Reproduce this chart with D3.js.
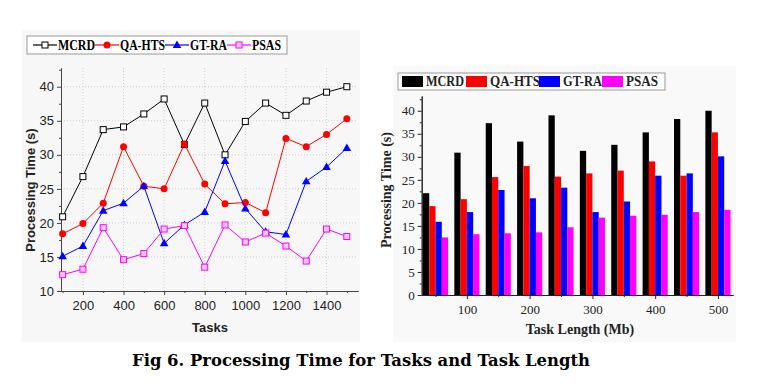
<!DOCTYPE html>
<html>
<head>
<meta charset="utf-8">
<script src="https://cdn.jsdelivr.net/npm/d3@7/dist/d3.min.js"></script>
<style>
body { margin: 0; background: #fff; }
</style>
</head>
<body>
<script>
// series names and colours
var series = ["MCRD", "QA-HTS", "GT-RA", "PSAS"];
var colors = ["#000000", "#ff0000", "#0000ff", "#ff00ff"];

// left chart: processing time vs number of tasks
var tasks = [100, 200, 300, 400, 500, 600, 700, 800, 900, 1000, 1100, 1200, 1300, 1400, 1500];
var mcrdTasks  = [20.9, 26.8, 33.7, 34.1, 36.0, 38.2, 31.5, 37.6, 30.0, 34.9, 37.6, 35.8, 37.9, 39.2, 40.0];
var qahtsTasks = [18.4, 19.9, 22.9, 31.2, 25.4, 25.0, 31.6, 25.7, 22.8, 23.0, 21.5, 32.4, 31.2, 33.0, 35.3];
var gtraTasks  = [15.1, 16.6, 21.8, 22.9, 25.4, 17.0, 19.7, 21.6, 29.1, 22.1, 18.7, 18.3, 26.1, 28.2, 31.0];
var psasTasks  = [12.4, 13.2, 19.3, 14.6, 15.5, 19.1, 19.6, 13.5, 19.7, 17.2, 18.5, 16.6, 14.4, 19.1, 18.0];
var taskTicks = [200, 400, 600, 800, 1000, 1200, 1400];
var leftYTicks = [10, 15, 20, 25, 30, 35, 40];

// right chart: processing time vs task length
var lengths = [50, 100, 150, 200, 250, 300, 350, 400, 450, 500];
var mcrdLen  = [22.1, 30.9, 37.3, 33.3, 39.0, 31.3, 32.6, 35.3, 38.2, 40.0];
var qahtsLen = [19.3, 20.8, 25.6, 28.0, 25.7, 26.4, 27.0, 29.0, 25.9, 35.3];
var gtraLen  = [15.9, 18.0, 22.8, 21.0, 23.3, 18.0, 20.3, 25.9, 26.4, 30.1];
var psasLen  = [12.5, 13.2, 13.4, 13.6, 14.7, 16.8, 17.2, 17.4, 18.0, 18.5];
var lengthTicks = [100, 200, 300, 400, 500];
var rightYTicks = [0, 5, 10, 15, 20, 25, 30, 35, 40];

var caption = "Fig 6. Processing Time for Tasks and Task Length";

var svg = d3.select("body").append("svg").attr("width", 762).attr("height", 383);

// faint panel backgrounds
svg.append("rect").attr("x", 22).attr("y", 30).attr("width", 338).attr("height", 312).style("fill", "#f7f7f7");
svg.append("rect").attr("x", 393).attr("y", 66).attr("width", 343).attr("height", 276).style("fill", "#f9f9f9");

// ---------- left line chart ----------
var leftData = [mcrdTasks, qahtsTasks, gtraTasks, psasTasks];
var lx = d3.scaleLinear().domain([92, 1555]).range([61, 358]);
var ly = d3.scaleLinear().domain([10, 42.75]).range([291, 68]);

var left = svg.append("g");

// dotted grid
left.selectAll(".vgrid").data(taskTicks).enter().append("line")
    .attr("x1", function(d){ return lx(d); }).attr("x2", function(d){ return lx(d); })
    .attr("y1", ly(10)).attr("y2", 68)
    .style("stroke", "#cfcfcf").style("stroke-dasharray", "1,2");
left.selectAll(".hgrid").data(leftYTicks.slice(1)).enter().append("line")
    .attr("x1", 61).attr("x2", 358)
    .attr("y1", function(d){ return ly(d); }).attr("y2", function(d){ return ly(d); })
    .style("stroke", "#cfcfcf").style("stroke-dasharray", "1,2");

var lxAxis = left.append("g").attr("transform", "translate(0,291)")
    .call(d3.axisBottom(lx).tickValues(taskTicks).tickFormat(d3.format("d")).tickSize(4).tickSizeOuter(0));
left.append("g").attr("transform", "translate(0,291)")
    .call(d3.axisBottom(lx).tickValues(d3.range(100, 1600, 200)).tickSize(2).tickFormat("").tickSizeOuter(0));
var lyAxis = left.append("g").attr("transform", "translate(61,0)")
    .call(d3.axisLeft(ly).tickValues(leftYTicks).tickSize(4).tickSizeOuter(0));
left.append("g").attr("transform", "translate(61,0)")
    .call(d3.axisLeft(ly).tickValues(d3.range(12.5, 43, 5)).tickSize(2).tickFormat("").tickSizeOuter(0));
left.selectAll(".domain, .tick line").style("stroke", "#444");
left.selectAll(".tick text").style("font-family", "Liberation Sans, Arial, sans-serif")
    .style("font-size", "13px").style("fill", "#222");
lxAxis.selectAll(".tick text").attr("dy", "0.9em");

left.append("text").attr("x", 210).attr("y", 332).attr("text-anchor", "middle")
    .style("font-family", "Liberation Sans, Arial, sans-serif").style("font-weight", "bold")
    .style("font-size", "13px").style("fill", "#222").text("Tasks");
left.append("text").attr("transform", "translate(35,190) rotate(-90)").attr("text-anchor", "middle")
    .style("font-family", "Liberation Sans, Arial, sans-serif").style("font-weight", "bold")
    .style("font-size", "13px").style("fill", "#222").text("Processing Time (s)");

var line = d3.line().x(function(d, i){ return lx(tasks[i]); }).y(function(d){ return ly(d); });

function drawMarker(g, k, cx, cy) {
    if (k == 0 || k == 3) {
        g.append("rect").attr("x", cx - 3).attr("y", cy - 3).attr("width", 6).attr("height", 6)
            .style("fill", k == 0 ? "#fff" : "#ffc8ff").style("stroke", colors[k]).style("stroke-width", 1);
    } else if (k == 1) {
        g.append("circle").attr("cx", cx).attr("cy", cy).attr("r", 3.5).style("fill", colors[k]);
    } else {
        g.append("path").attr("d", d3.symbol().type(d3.symbolTriangle).size(32)())
            .attr("transform", "translate(" + cx + "," + (cy + 0.5) + ")").style("fill", colors[k]);
    }
}

leftData.forEach(function(vals, k){
    left.append("path").datum(vals).attr("d", line)
        .style("fill", "none").style("stroke", colors[k]).style("stroke-width", 1);
    vals.forEach(function(v, i){ drawMarker(left, k, lx(tasks[i]), ly(v)); });
});

// left legend
var lleg = left.append("g");
lleg.append("rect").attr("x", 27).attr("y", 36).attr("width", 260).attr("height", 18)
    .style("fill", "#fff").style("stroke", "#999");
var lsx = [33, 95, 165, 227];
var ltw = [37, 45, 37, 29];
lsx.forEach(function(x0, k){
    lleg.append("line").attr("x1", x0).attr("x2", x0 + 24).attr("y1", 45).attr("y2", 45)
        .style("stroke", colors[k]).style("stroke-width", 1.2);
    drawMarker(lleg, k, x0 + 12, 45);
    lleg.append("text").attr("x", x0 + 25).attr("y", 50)
        .attr("textLength", ltw[k]).attr("lengthAdjust", "spacingAndGlyphs")
        .style("font-family", "Liberation Serif, Times New Roman, serif").style("font-weight", "bold")
        .style("font-size", "14px").text(series[k]);
});

// ---------- right grouped bar chart ----------
var rightData = [mcrdLen, qahtsLen, gtraLen, psasLen];
var rx = d3.scaleLinear().domain([28, 524]).range([421.7, 733]);
var ry = d3.scaleLinear().domain([0, 43.2]).range([295, 96]);
var barW = 10; // bar width in task-length units

var right = svg.append("g");
rightData.forEach(function(vals, k){
    right.selectAll(".bar" + k).data(vals).enter().append("rect")
        .attr("x", function(d, i){ return rx(lengths[i] - 2 * barW + k * barW); })
        .attr("width", rx(barW) - rx(0))
        .attr("y", function(d){ return ry(d); })
        .attr("height", function(d){ return ry(0) - ry(d); })
        .style("fill", colors[k]);
});

var rxAxis = right.append("g").attr("transform", "translate(0,295)")
    .call(d3.axisBottom(rx).tickValues(lengthTicks).tickSize(4).tickSizeOuter(0));
right.append("g").attr("transform", "translate(0,295)")
    .call(d3.axisBottom(rx).tickValues(d3.range(50, 520, 100)).tickSize(2).tickFormat("").tickSizeOuter(0));
var ryAxis = right.append("g").attr("transform", "translate(421.7,0)")
    .call(d3.axisLeft(ry).tickValues(rightYTicks).tickSize(4).tickSizeOuter(0));
right.append("g").attr("transform", "translate(421.7,0)")
    .call(d3.axisLeft(ry).tickValues(d3.range(2.5, 43, 5)).tickSize(2).tickFormat("").tickSizeOuter(0));
right.selectAll(".domain, .tick line").style("stroke", "#222");
right.selectAll(".tick text").style("font-family", "Liberation Serif, Times New Roman, serif")
    .style("font-size", "13px").style("fill", "#222");
rxAxis.selectAll(".tick text").attr("dy", "0.9em");

right.append("text").attr("x", 580).attr("y", 334).attr("text-anchor", "middle")
    .style("font-family", "Liberation Serif, Times New Roman, serif").style("font-weight", "bold")
    .style("font-size", "14px").style("fill", "#222").text("Task Length (Mb)");
right.append("text").attr("transform", "translate(391,190) rotate(-90)").attr("text-anchor", "middle")
    .style("font-family", "Liberation Serif, Times New Roman, serif").style("font-weight", "bold")
    .style("font-size", "14px").style("fill", "#222").text("Processing Time (s)");

// right legend
var rleg = right.append("g");
rleg.append("rect").attr("x", 398).attr("y", 73).attr("width", 267).attr("height", 17)
    .style("fill", "#fff").style("stroke", "#999");
var rsx = [402, 466, 539, 602];
var rtw = [38, 50, 39, 32];
rsx.forEach(function(x0, k){
    rleg.append("rect").attr("x", x0).attr("y", 76).attr("width", 21).attr("height", 11).style("fill", colors[k]);
    rleg.append("text").attr("x", x0 + 24).attr("y", 86)
        .attr("textLength", rtw[k]).attr("lengthAdjust", "spacingAndGlyphs")
        .style("font-family", "Liberation Serif, Times New Roman, serif").style("font-weight", "bold")
        .style("font-size", "14px").style("fill", "#222").text(series[k]);
});

// caption
svg.append("text").attr("x", 361).attr("y", 366).attr("text-anchor", "middle")
    .style("font-family", "DejaVu Serif, serif").style("font-weight", "bold")
    .style("font-size", "16px").attr("textLength", 458).attr("lengthAdjust", "spacingAndGlyphs")
    .text(caption);
</script>
</body>
</html>
